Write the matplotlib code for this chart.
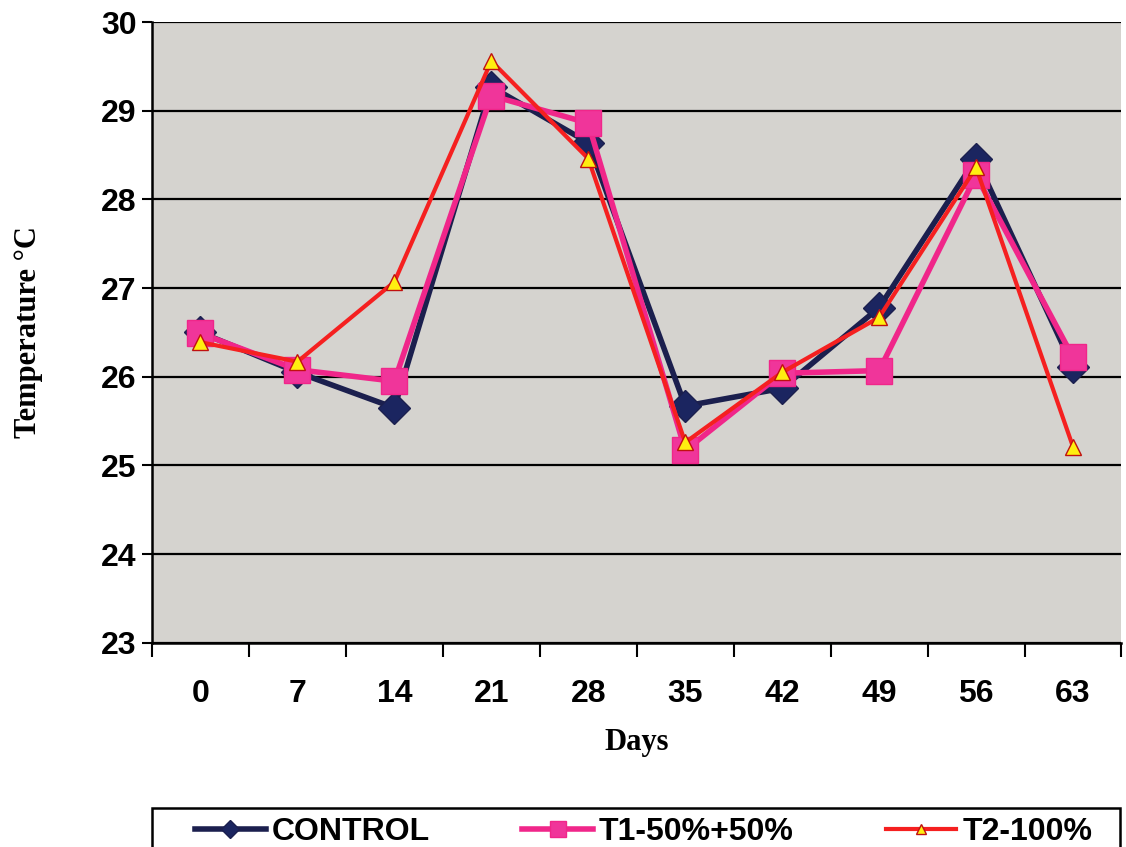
import matplotlib
matplotlib.use('Agg')
import matplotlib.pyplot as plt
from matplotlib.patches import Rectangle
import numpy as np

# Datos
days = ['0', '7', '14', '21', '28', '35', '42', '49', '56', '63']
control = [26.5, 26.05, 25.65, 29.27, 28.64, 25.67, 25.87, 26.78, 28.46, 26.11]
t1 = [26.49, 26.08, 25.95, 29.17, 28.86, 25.17, 26.04, 26.07, 28.27, 26.22]
t2 = [26.39, 26.17, 27.07, 29.56, 28.46, 25.26, 26.05, 26.67, 28.36, 25.21]

fig = plt.figure(figsize=(11.26, 8.47), dpi=100)
ax = fig.add_axes([0.135, 0.241, 0.861, 0.733])
ax.set_facecolor('#d5d3cf')

x = np.arange(len(days))
ax.plot(x, control, color='#1b1f4e', lw=4, marker='D', ms=16,
        mfc='#1b2560', mec='#1b1f4e', label='CONTROL', zorder=3)
ax.plot(x, t1, color='#f0268a', lw=4, marker='s', ms=19,
        mfc='#f0359a', mec='#f0268a', label='T1-50%+50%', zorder=4)
ax.plot(x, t2, color='#f52020', lw=3, marker='^', ms=11,
        mfc='#ffee10', mec='#c01010', label='T2-100%', zorder=5)

ax.set_ylim(23, 30)
ax.set_xlim(-0.5, len(days) - 0.5)
ax.set_yticks(range(23, 31))
ax.yaxis.grid(True, color='black', lw=1.6)
ax.set_axisbelow(True)

# etiquetas en el centro, marcas en los limites de categoria
ax.set_xticks(x)
ax.set_xticklabels(days)
ax.set_xticks(np.arange(-0.5, len(days)), minor=True)
ax.tick_params(axis='x', which='major', length=0, pad=26)
ax.tick_params(axis='x', which='minor', length=10, width=1.5, direction='out')
ax.tick_params(axis='y', length=7, width=1.5, direction='out', pad=4)

for lab in ax.get_xticklabels() + ax.get_yticklabels():
    lab.set_fontfamily(['Liberation Sans Narrow', 'Liberation Sans', 'DejaVu Sans'])
    lab.set_fontweight('bold')
    lab.set_fontsize(23)

for s in ['top', 'right']:
    ax.spines[s].set_visible(False)
ax.spines['left'].set_linewidth(1.8)
ax.spines['bottom'].set_linewidth(1.8)

ax.set_xlabel('Days', fontfamily='Liberation Serif', fontweight='bold',
              fontsize=22, labelpad=14)
ax.set_ylabel('Temperature °C', fontfamily='Liberation Serif', fontweight='bold',
              fontsize=22, labelpad=42)

# caja de la leyenda (cortada abajo como en el original)
fig.patches.append(Rectangle((0.135, -0.01), 0.86, 0.056, transform=fig.transFigure,
                             facecolor='white', edgecolor='black', lw=1.8))
leg = fig.legend(loc='lower left', bbox_to_anchor=(0.172, -0.002, 0.8, 0.046),
                 mode='expand', ncol=3, frameon=False,
                 borderpad=0.05, borderaxespad=0,
                 handlelength=2.2, handletextpad=0.2, markerscale=0.6,
                 prop={'family': ['Liberation Sans Narrow', 'Liberation Sans'],
                       'weight': 'bold', 'size': 23})

fig.savefig('out.png', dpi=100, facecolor='white')
